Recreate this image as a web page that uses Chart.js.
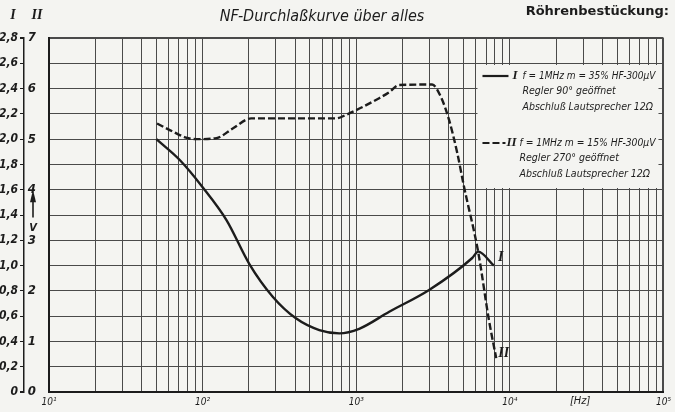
<!DOCTYPE html>
<html>
<head>
<meta charset="utf-8">
<script src="https://cdn.jsdelivr.net/npm/chart.js@4.4.1/dist/chart.umd.min.js"></script>
<style>
  html, body { margin: 0; padding: 0; background: #f4f4f1; }
  #wrap { width: 675px; height: 412px; }
</style>
</head>
<body>
<div id="wrap"><canvas id="chart"></canvas></div>
<script>
// curve I (left scale, 0 .. 2,8)
const freqI = [50, 71, 100, 143, 202, 286, 405, 575, 776, 1045, 1640, 2980, 5690, 6220, 7870];
const levelI = [2.0, 1.835, 1.62, 1.36, 1.01, 0.754, 0.583, 0.49, 0.464, 0.5, 0.635, 0.807, 1.06, 1.11, 1.0];

// curve II (second scale, 0 .. 7)
const freqII = [50.5, 64, 78, 91, 123, 157, 207, 738, 857, 1410, 1640, 1900, 3120, 3550, 4020, 4550, 5030, 6220, 7310, 8150];
const levelII = [5.31, 5.15, 5.03, 5.0, 5.02, 5.21, 5.41, 5.41, 5.48, 5.81, 5.93, 6.07, 6.08, 5.84, 5.38, 4.72, 4.06, 2.77, 1.42, 0.67];

const xTicks = [];
for (let e = 1; e <= 4; e++) {
  for (let m = 1; m <= 9; m++) xTicks.push(m * Math.pow(10, e));
}
xTicks.push(100000);
const xDecades = [10, 100, 1000, 10000, 100000];
const xDecadeLabels = ["10¹", "10²", "10³", "10⁴", "10⁵"];

const yTicksI = [0, 0.2, 0.4, 0.6, 0.8, 1.0, 1.2, 1.4, 1.6, 1.8, 2.0, 2.2, 2.4, 2.6, 2.8];
const yLabelsI = ["0", "0,2", "0,4", "0,6", "0,8", "1,0", "1,2", "1,4", "1,6", "1,8", "2,0", "2,2", "2,4", "2,6", "2,8"];
const yTicksII = [0, 1, 2, 3, 4, 5, 6, 7];

const titleText = "NF-Durchlaßkurve über alles";
const cornerText = "Röhrenbestückung:";
const legendI = ["f = 1MHz m = 35% HF-300µV", "Regler 90° geöffnet", "Abschluß Lautsprecher 12Ω"];
const legendII = ["f = 1MHz m = 15% HF-300µV", "Regler 270° geöffnet", "Abschluß Lautsprecher 12Ω"];

const PAPER = "#f4f4f1";
const INK = "#1c1c1c";
const GRID = "#4a4a4a";
const HAND = "'DejaVu Sans Condensed', 'DejaVu Sans', sans-serif";
const ROMAN = "'Liberation Serif', 'DejaVu Serif', serif";

function toPoints(xs, ys) {
  return xs.map((x, i) => ({ x: x, y: ys[i] }));
}

// squeeze a legend line into the room the drawing gives it
function fitText(ctx, text, x, y, maxWidth) {
  const w = ctx.measureText(text).width;
  if (w <= maxWidth) {
    ctx.fillText(text, x, y);
    return;
  }
  ctx.save();
  ctx.translate(x, y);
  ctx.scale(maxWidth / w, 1);
  ctx.fillText(text, 0, 0);
  ctx.restore();
}

const paperDecor = {
  id: "paperDecor",
  beforeDraw(chart) {
    const ctx = chart.ctx;
    ctx.save();
    ctx.fillStyle = PAPER;
    ctx.fillRect(0, 0, chart.width, chart.height);
    ctx.restore();
  },
  beforeDatasetsDraw(chart) {
    // legend box, erased out of the grid
    const ctx = chart.ctx;
    const area = chart.chartArea;
    const x0 = area.right - 186;
    const y0 = area.top + 27;
    ctx.save();
    ctx.fillStyle = PAPER;
    ctx.fillRect(x0, y0, 181, 123);

    const dsI = chart.data.datasets[0];
    const dsII = chart.data.datasets[1];
    ctx.strokeStyle = INK;
    ctx.lineWidth = 2.2;
    ctx.setLineDash(dsI.borderDash || []);
    ctx.beginPath();
    ctx.moveTo(x0 + 5, y0 + 11);
    ctx.lineTo(x0 + 31, y0 + 11);
    ctx.stroke();
    ctx.setLineDash(dsII.borderDash);
    ctx.beginPath();
    ctx.moveTo(x0 + 5, y0 + 78);
    ctx.lineTo(x0 + 28, y0 + 78);
    ctx.stroke();
    ctx.setLineDash([]);

    ctx.fillStyle = INK;
    ctx.textBaseline = "middle";
    ctx.textAlign = "left";
    ctx.font = "bold italic 13px " + ROMAN;
    ctx.fillText("I", x0 + 35, y0 + 11);
    ctx.fillText("II", x0 + 29, y0 + 78);

    ctx.font = "italic 10.5px " + HAND;
    legendI.forEach((t, i) => fitText(ctx, t, x0 + 45, y0 + 11 + i * 15.7, 133));
    legendII.forEach((t, i) => fitText(ctx, t, x0 + 42, y0 + 78 + i * 15.5, 136));
    ctx.restore();
  },
  afterDraw(chart) {
    const ctx = chart.ctx;
    const area = chart.chartArea;
    const sx = chart.scales.x;
    const yI = chart.scales.yI;
    const yII = chart.scales.yII;
    ctx.save();
    ctx.fillStyle = INK;
    ctx.strokeStyle = INK;
    ctx.textBaseline = "middle";

    ctx.textAlign = "center";
    ctx.font = "italic 16px " + HAND;
    ctx.fillText(titleText, 322, 17);

    ctx.textAlign = "right";
    ctx.font = "bold 13px 'DejaVu Sans', sans-serif";
    ctx.fillText(cornerText, chart.width - 6, 12);

    // axis headings
    ctx.textAlign = "center";
    ctx.font = "bold italic 14px " + ROMAN;
    ctx.fillText("I", yI.left + 13, 15);
    ctx.fillText("II", yII.left + 13, 15);

    // V arrow between the two scales
    const ax = yI.right + 9;
    ctx.lineWidth = 1.6;
    ctx.beginPath();
    ctx.moveTo(ax, yI.getPixelForValue(1.38));
    ctx.lineTo(ax, yI.getPixelForValue(1.52));
    ctx.stroke();
    ctx.beginPath();
    ctx.moveTo(ax, yI.getPixelForValue(1.6));
    ctx.lineTo(ax - 3, yI.getPixelForValue(1.5));
    ctx.lineTo(ax + 3, yI.getPixelForValue(1.5));
    ctx.closePath();
    ctx.fill();
    ctx.font = "italic bold 11px " + HAND;
    ctx.fillText("V", ax, yI.getPixelForValue(1.3));

    // unit
    ctx.font = "italic 11px " + HAND;
    ctx.fillText("[Hz]", sx.getPixelForValue(30000) - 3, area.bottom + 9);

    // curve end labels
    ctx.font = "bold italic 14px " + ROMAN;
    ctx.textAlign = "left";
    const nI = freqI.length - 1;
    ctx.fillText("I", sx.getPixelForValue(freqI[nI]) + 4, yI.getPixelForValue(levelI[nI]) - 8);
    const nII = freqII.length - 1;
    ctx.fillText("II", sx.getPixelForValue(freqII[nII]) + 2, yII.getPixelForValue(levelII[nII]) - 5);
    ctx.restore();
  },
};

function edgeWidth(value, lo, hi) {
  return value === lo || value === hi ? 2 : 1;
}

const ctx = document.getElementById("chart").getContext("2d");
new Chart(ctx, {
  type: "line",
  plugins: [paperDecor],
  data: {
    datasets: [
      {
        label: "I",
        data: toPoints(freqI, levelI),
        yAxisID: "yI",
        borderColor: INK,
        borderWidth: 2.4,
        pointRadius: 0,
        cubicInterpolationMode: "monotone",
        fill: false,
      },
      {
        label: "II",
        data: toPoints(freqII, levelII),
        yAxisID: "yII",
        borderColor: INK,
        borderWidth: 2.4,
        borderDash: [7, 3],
        pointRadius: 0,
        cubicInterpolationMode: "monotone",
        fill: false,
      },
    ],
  },
  options: {
    responsive: true,
    maintainAspectRatio: false,
    animation: false,
    events: [],
    layout: {
      padding: { top: 38, right: 10, left: 0, bottom: 0 },
    },
    plugins: {
      legend: { display: false },
      tooltip: { enabled: false },
      title: { display: false },
    },
    scales: {
      x: {
        type: "logarithmic",
        min: 10,
        max: 100000,
        afterBuildTicks: (scale) => {
          scale.ticks = xTicks.map((v) => ({ value: v, major: xDecades.includes(v) }));
        },
        afterFit: (scale) => {
          scale.height = 20;
        },
        grid: {
          color: GRID,
          lineWidth: (c) => (c.tick ? edgeWidth(c.tick.value, 10, 100000) : 1),
          drawTicks: false,
        },
        border: { display: true, color: INK, width: 2 },
        ticks: {
          autoSkip: false,
          maxRotation: 0,
          padding: 4,
          color: INK,
          font: { size: 10, family: HAND, style: "italic" },
          callback: (value) => {
            const i = xDecades.indexOf(value);
            return i >= 0 ? xDecadeLabels[i] : "";
          },
        },
      },
      yI: {
        type: "linear",
        position: "left",
        weight: 1,
        min: 0,
        max: 2.8,
        afterBuildTicks: (scale) => {
          scale.ticks = yTicksI.map((v) => ({ value: v }));
        },
        afterFit: (scale) => {
          scale.width = 24;
        },
        grid: {
          color: GRID,
          lineWidth: (c) => (c.tick ? edgeWidth(c.tick.value, 0, 2.8) : 1),
          drawOnChartArea: true,
          drawTicks: true,
          tickLength: 4,
          tickColor: INK,
        },
        border: { display: true, color: INK, width: 1.5 },
        ticks: {
          padding: 2,
          color: INK,
          font: { size: 12, family: HAND, style: "italic", weight: "bold" },
          callback: (value) => {
            const i = yTicksI.indexOf(value);
            return i >= 0 ? yLabelsI[i] : "";
          },
        },
      },
      yII: {
        type: "linear",
        position: "left",
        weight: 0,
        min: 0,
        max: 7,
        afterBuildTicks: (scale) => {
          scale.ticks = yTicksII.map((v) => ({ value: v }));
        },
        afterFit: (scale) => {
          scale.width = 25;
        },
        grid: { display: false, drawOnChartArea: false },
        border: { display: true, color: INK, width: 2 },
        ticks: {
          padding: 5,
          color: INK,
          font: { size: 13, family: HAND, style: "italic", weight: "bold" },
          callback: (value) => String(value),
        },
      },
    },
  },
});
</script>
</body>
</html>
